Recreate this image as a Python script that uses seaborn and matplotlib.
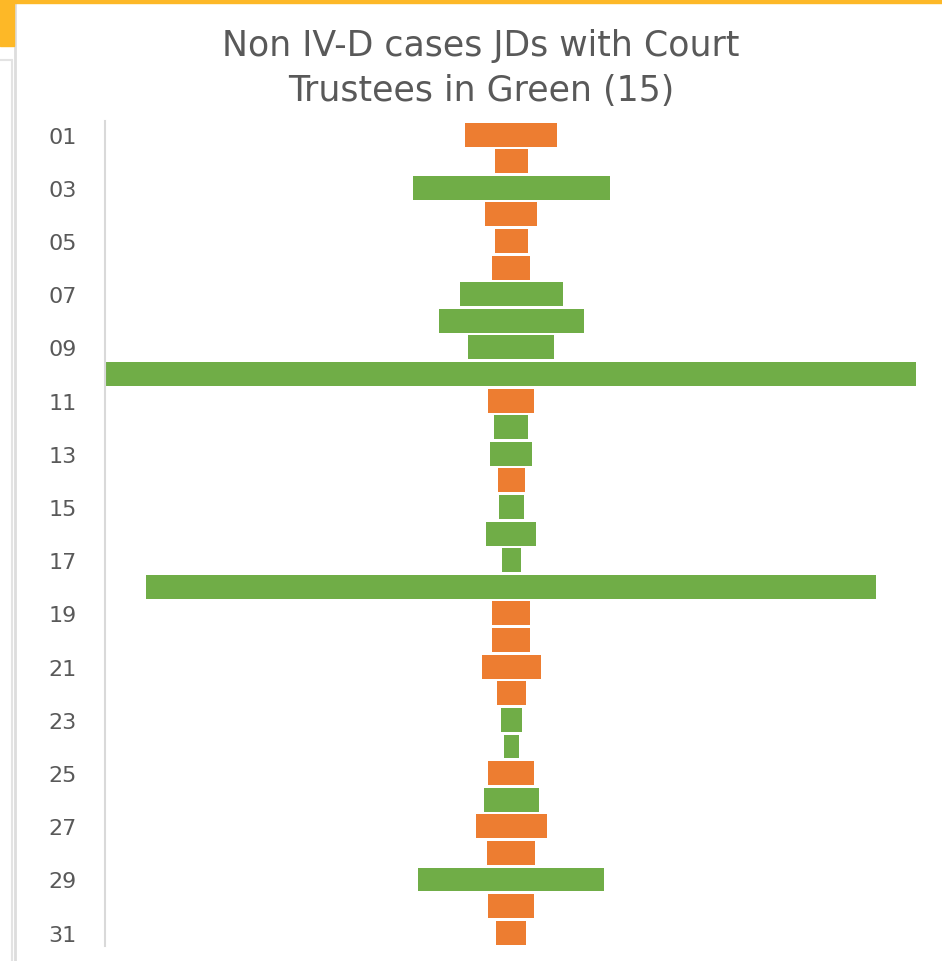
import pandas as pd
import matplotlib.pyplot as plt
from matplotlib.patches import Rectangle
from matplotlib.lines import Line2D
import seaborn as sns

sns.set_theme(style="white")
plt.rcParams["font.family"] = ["DejaVu Sans"]

# ── Data ──────────────────────────────────────────────────────────────────────
jds = [f"{i:02d}" for i in range(1, 32)]
cases = [92, 33, 197, 52, 33, 38, 103, 145, 86, 810,
         46, 34, 42, 27, 25, 50, 19, 730, 38, 38,
         59, 29, 21, 15, 46, 55, 71, 48, 186, 46, 30]
court_trustee = [0, 0, 1, 0, 0, 0, 1, 1, 1, 1,
                 0, 1, 1, 0, 1, 1, 1, 1, 0, 0,
                 0, 0, 1, 1, 0, 1, 0, 0, 1, 0, 0]
tick_labels = jds[::2]

ORANGE = "#ED7D31"
GREEN = "#70AD47"
GREY_TXT = "#595959"

df = pd.DataFrame({"jd": jds, "cases": cases, "trustee": court_trustee})
df["group"] = df["trustee"].map({1: "Court Trustee", 0: "Other"})
df["right"] = df["cases"] / 2
df["left"] = -df["cases"] / 2
palette = {"Court Trustee": GREEN, "Other": ORANGE}

# ── Figure ────────────────────────────────────────────────────────────────────
W, H = 942, 962
fig = plt.figure(figsize=(W / 100, H / 100), dpi=100)
ax = fig.add_axes([104.5 / W, 1 - 947 / H, 813 / W, (947 - 122.3) / H])

# funnel: two half-bars mirrored around zero
for col in ["right", "left"]:
    sns.barplot(data=df, x=col, y="jd", hue="group", palette=palette,
                order=jds, dodge=False, width=0.9, linewidth=0,
                saturation=1, errorbar=None, legend=False, orient="h", ax=ax)

half = 406.5
ax.set_xlim(-half, half)
ax.set_xticks([])
ax.set_xlabel("")
ax.set_ylabel("")
ax.set_yticks(range(0, len(jds), 2))
ax.set_yticklabels(tick_labels, fontsize=16, color=GREY_TXT)
ax.tick_params(axis="y", length=0, pad=20)
for s in ["top", "right", "bottom"]:
    ax.spines[s].set_visible(False)
ax.spines["left"].set_color("#D9D9D9")
ax.spines["left"].set_linewidth(1.5)

# title
cx = 481 / W
fig.text(cx, 1 - 56 / H, "Non IV-D cases JDs with Court", ha="center",
         va="baseline", fontsize=25, color=GREY_TXT)
fig.text(cx, 1 - 101 / H, "Trustees in Green (15)", ha="center",
         va="baseline", fontsize=25, color=GREY_TXT)

# screenshot frame bits
YEL = "#FDB827"
fig.patches.append(Rectangle((0, 1 - 4 / H), 1, 4 / H, transform=fig.transFigure,
                             color=YEL, zorder=5))
fig.patches.append(Rectangle((0, 1 - 47 / H), 14 / W, 47 / H,
                             transform=fig.transFigure, color=YEL, zorder=5))
fig.lines.append(Line2D([15 / W, 15 / W], [0, 1 - 4 / H], transform=fig.transFigure,
                        color="#DDDDDD", lw=2))
fig.lines.append(Line2D([0, 12 / W], [1 - 61 / H, 1 - 61 / H],
                        transform=fig.transFigure, color="#E3E3E3", lw=1.5))
fig.lines.append(Line2D([12 / W, 12 / W], [0, 1 - 61 / H],
                        transform=fig.transFigure, color="#E3E3E3", lw=1.5))

fig.savefig("out.png", dpi=100)
